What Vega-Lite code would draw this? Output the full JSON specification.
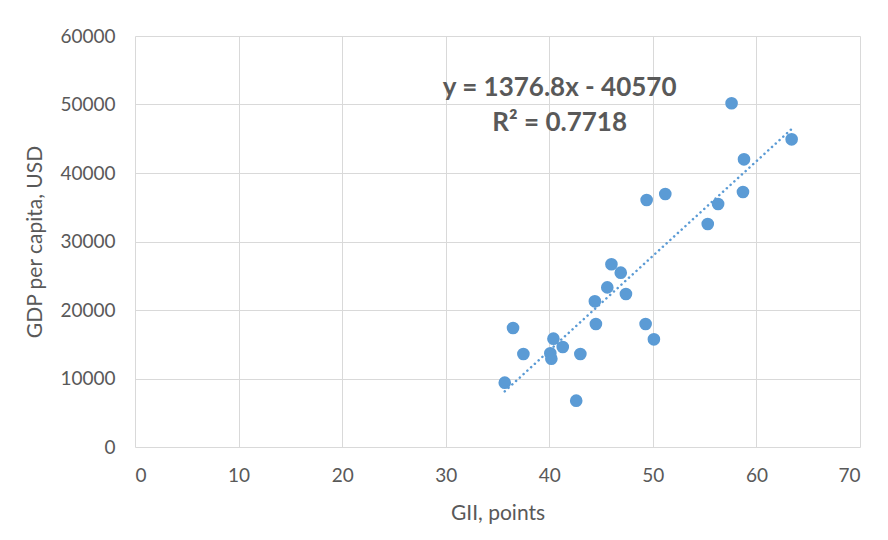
{
  "$schema": "https://vega.github.io/schema/vega-lite/v6.json",
  "width": 725,
  "height": 411,
  "autosize": {"type": "none"},
  "padding": {"left": 135, "top": 36, "right": 28, "bottom": 93},
  "background": "white",
  "config": {
    "view": {"stroke": null},
    "font": "Lato",
    "axis": {
      "gridColor": "#D9D9D9",
      "gridWidth": 1,
      "domain": false,
      "ticks": false,
      "labelColor": "#595959",
      "labelFontSize": 19,
      "labelFont": "Lato",
      "titleColor": "#595959",
      "titleFontSize": 21,
      "titleFont": "Lato",
      "titleFontWeight": "normal"
    }
  },
  "datasets": {
    "pts": [
      {"gii": 35.7, "gdp": 9390},
      {"gii": 36.5, "gdp": 17370},
      {"gii": 37.5, "gdp": 13580},
      {"gii": 40.1, "gdp": 13680},
      {"gii": 40.2, "gdp": 12890},
      {"gii": 40.4, "gdp": 15810},
      {"gii": 41.3, "gdp": 14600},
      {"gii": 42.6, "gdp": 6760},
      {"gii": 43.0, "gdp": 13580},
      {"gii": 44.4, "gdp": 21270},
      {"gii": 44.5, "gdp": 17960},
      {"gii": 45.6, "gdp": 23300},
      {"gii": 46.0, "gdp": 26680},
      {"gii": 46.9, "gdp": 25450},
      {"gii": 47.4, "gdp": 22340},
      {"gii": 49.3, "gdp": 17960},
      {"gii": 49.4, "gdp": 36060},
      {"gii": 50.1, "gdp": 15720},
      {"gii": 51.2, "gdp": 36940},
      {"gii": 55.3, "gdp": 32560},
      {"gii": 56.3, "gdp": 35480},
      {"gii": 57.6, "gdp": 50180},
      {"gii": 58.7, "gdp": 37230},
      {"gii": 58.8, "gdp": 42000},
      {"gii": 63.4, "gdp": 44920}
    ],
    "labels": [
      {"gii": 41.0, "gdp": 52400, "txt": "y = 1376.8x - 40570"},
      {"gii": 41.0, "gdp": 47300, "txt": "R² = 0.7718"}
    ]
  },
  "layer": [
    {
      "data": {"name": "pts"},
      "mark": {"type": "circle", "size": 160, "color": "#5B9BD5", "opacity": 1},
      "encoding": {
        "x": {
          "field": "gii", "type": "quantitative",
          "scale": {"domain": [0, 70], "nice": false, "zero": true},
          "axis": {"values": [0, 10, 20, 30, 40, 50, 60, 70], "title": "GII, points", "labelPadding": 19, "titlePadding": 17}
        },
        "y": {
          "field": "gdp", "type": "quantitative",
          "scale": {"domain": [0, 60000], "nice": false},
          "axis": {"values": [0, 10000, 20000, 30000, 40000, 50000, 60000], "title": "GDP per capita, USD", "labelPadding": 20, "titlePadding": 14, "format": "d"}
        }
      }
    },
    {
      "data": {"name": "pts"},
      "transform": [{"regression": "gdp", "on": "gii"}],
      "mark": {"type": "line", "color": "#5B9BD5", "strokeWidth": 2.5, "strokeDash": [0.1, 5], "strokeCap": "round"},
      "encoding": {
        "x": {"field": "gii", "type": "quantitative"},
        "y": {"field": "gdp", "type": "quantitative"}
      }
    },
    {
      "data": {"name": "labels"},
      "mark": {"type": "text", "fontSize": 26, "fontWeight": "bold", "color": "#595959", "font": "Lato"},
      "encoding": {
        "x": {"field": "gii", "type": "quantitative"},
        "y": {"field": "gdp", "type": "quantitative"},
        "text": {"field": "txt"}
      }
    }
  ]
}
